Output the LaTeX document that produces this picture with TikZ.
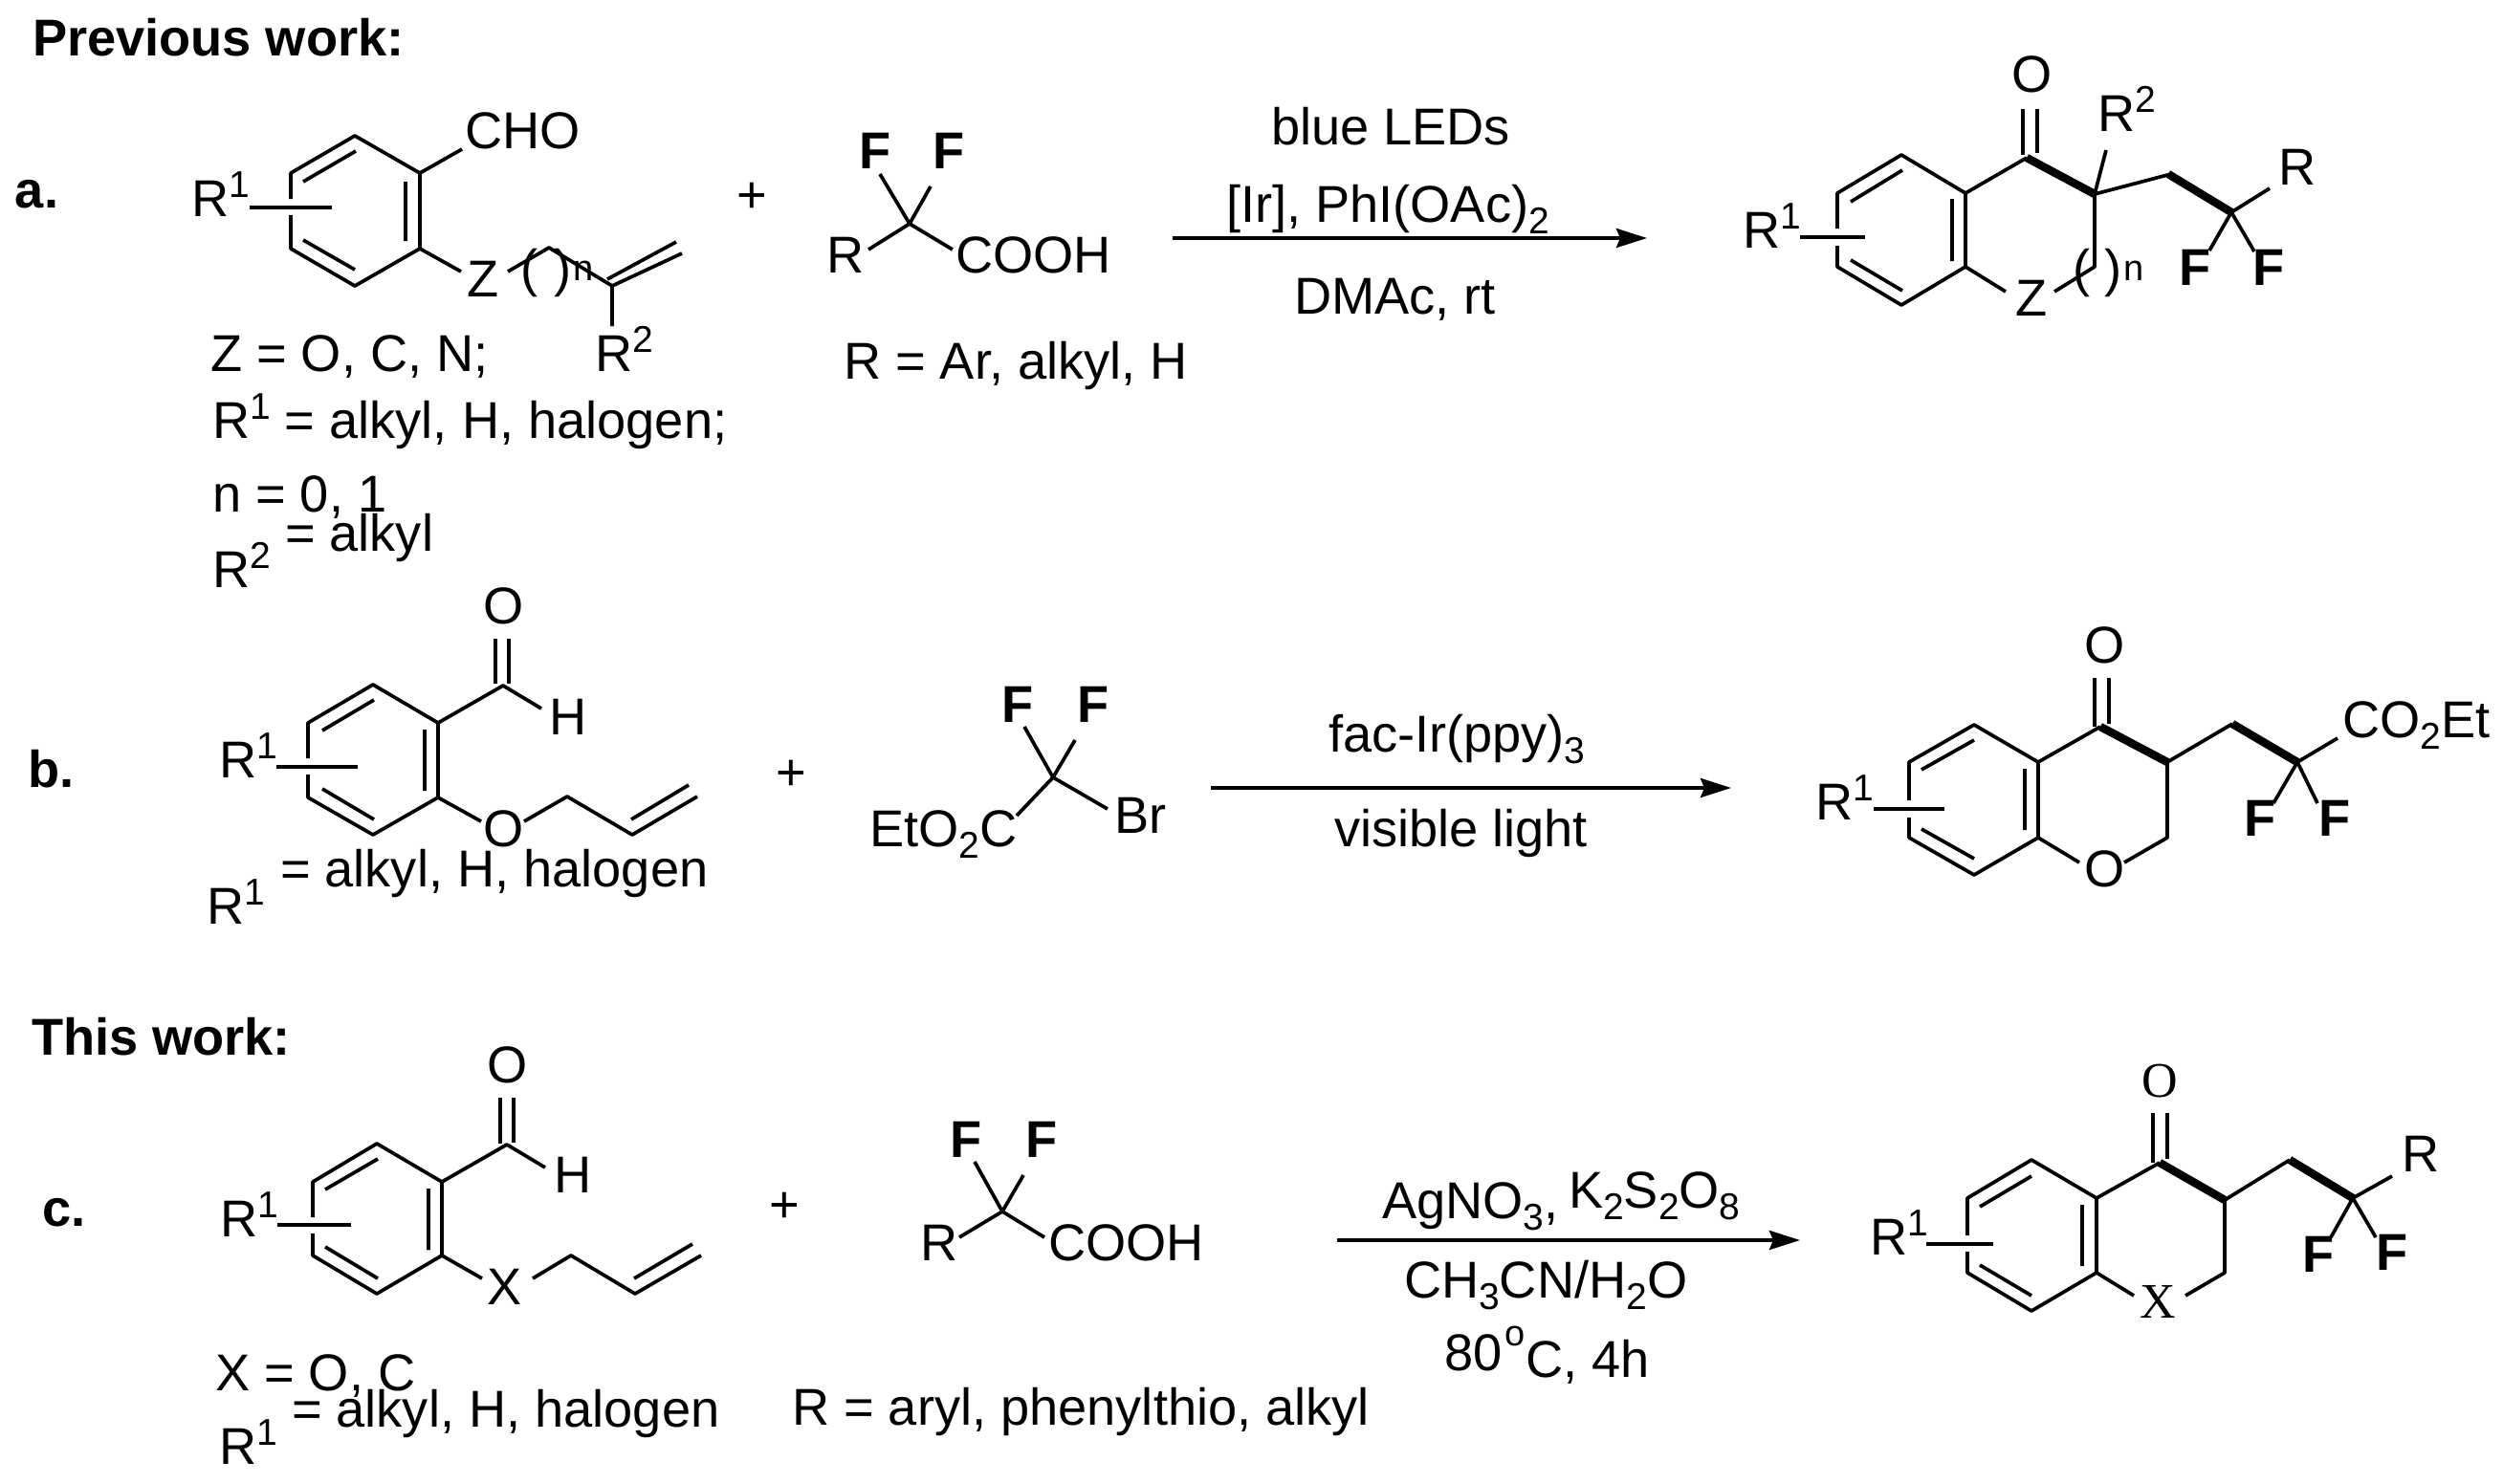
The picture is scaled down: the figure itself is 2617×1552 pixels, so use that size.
\documentclass[tikz,border=0pt]{standalone}
\usepackage{fontspec}
\setmainfont{Liberation Sans}
\newfontfamily\serifchem{Liberation Serif}
\usetikzlibrary{arrows.meta}
\newcommand\mainsz{\fontsize{54.2}{60}\selectfont}
\newcommand\supr[1]{\raisebox{20pt}{\fontsize{39}{39}\selectfont #1}}
\newcommand\subr[1]{\raisebox{-12pt}{\fontsize{39}{39}\selectfont #1}}
\tikzset{
  txt/.style={anchor=base west,inner sep=0pt,outer sep=0pt,font=\mainsz,text=black,xshift=-3pt},
  btxt/.style={txt,font=\mainsz\bfseries},
  stxt/.style={txt,font=\fontsize{52}{52}\selectfont\serifchem},
  ntxt/.style={txt,font=\fontsize{38}{38}\selectfont},
  plus/.style={anchor=center,inner sep=0pt,outer sep=0pt,font=\mainsz,text=black,yshift=-3pt},
  bnd/.style={draw=black,line width=3.7pt,line join=round},
  hvy/.style={draw=black,line width=8.5pt,line cap=butt},
  rxn/.style={draw=black,line width=4pt,-{Stealth[length=32pt,width=20pt,inset=4pt]}}
}
\begin{document}
\begin{tikzpicture}[x=1pt,y=-1pt]
\useasboundingbox (0,0) rectangle (2617,1552);
\fill[white] (0,0) rectangle (2617,1552);
% headings
\node[btxt] (prev) at (37,59) {Previous work:};
\node[btxt] (labA) at (19,217) {a.};
\node[btxt] (labB) at (32,823) {b.};
\node[btxt] (thisw) at (36,1103) {This work:};
\node[btxt] (labC) at (47,1282) {c.};
% ---------- a: aldehyde
\draw[bnd] (304,208)--(304,181)--(371,142)--(439,181)--(439,260)--(371,299)--(304,260)--(304,225);
\draw[bnd] (317,190)--(372,158) (424,190)--(424,252) (317,251)--(371,282);
\draw[bnd] (261,217)--(347,217);
\draw[bnd] (439,181)--(483,156) (439,260)--(482,284);
\draw[bnd] (531,284)--(574,259)--(640,299)--(713,265) (635,292)--(707,253) (640,299)--(640,341);
\node[txt] (a1r) at (203,226) {R\supr{1}};
\node[txt] (a1cho) at (489,155) {CHO};
\node[txt] (a1z) at (491,310) {Z};
\node[txt] (a1pl) at (547,299) {(};
\node[txt] (a1pr) at (582,299) {)};
\node[ntxt] (a1n) at (602,293) {n};
\node[txt] (a1r2) at (625,388) {R\supr{2}};
\node[txt] (a1t1) at (223,388) {Z = O, C, N;};
\node[txt] (a1t2) at (225,458) {R\supr{1} = alkyl, H, halogen;};
\node[txt] (a1t3) at (225,535) {n = 0, 1};
\node[txt] (a1t4) at (301,576) {= alkyl};
\node[txt] (a1t5) at (225,614) {R\supr{2}};
\node[plus] (aplus) at (786,204) {+};
% a: acid
\draw[bnd] (920,182)--(951,234) (973,195)--(951,234) (908,261)--(951,234)--(996,261);
\node[btxt] (a2f1) at (901,176) {F};
\node[btxt] (a2f2) at (978,176) {F};
\node[txt] (a2r) at (867,285) {R};
\node[txt] (a2c) at (1002,285) {COOH};
\node[txt] (a2t) at (885,396) {R = Ar, alkyl, H};
% a: arrow
\coordinate (aS) at (1226,249);
\coordinate (aE) at (1722,249);
\draw[rxn] (aS)--(aE);
\node[txt] (ac1) at (1332,151) {blue LEDs};
\node[txt] (ac2) at (1285,232) {[Ir], PhI(OAc)\subr{2}};
\node[txt] (ac3) at (1356,328) {DMAc, rt};
% a: product
\draw[bnd] (1921,239)--(1921,202)--(1988,162)--(2055,202)--(2055,279)--(1988,319)--(1921,279)--(1921,257);
\draw[bnd] (1935,211)--(1989,178) (2041,208)--(2041,273) (1935,272)--(1989,304);
\draw[bnd] (1882,248)--(1950,248);
\draw[bnd] (2055,202)--(2119,165);
\draw[bnd] (2115,114)--(2115,162) (2130,114)--(2130,160);
\draw[hvy] (2119,165)--(2190,203);
\draw[bnd] (2190,203)--(2190,279)--(2148,305) (2055,279)--(2097,305);
\draw[bnd] (2190,203)--(2202,157) (2190,203)--(2270,182);
\draw[hvy] (2267,182)--(2333,222);
\draw[bnd] (2333,222)--(2373,197) (2333,222)--(2310,262) (2333,222)--(2357,263);
\node[txt] (apO) at (2106,97) {O};
\node[txt] (apR1) at (1825,259) {R\supr{1}};
\node[txt] (apZ) at (2110,330) {Z};
\node[txt] (apR2) at (2196,138) {R\supr{2}};
\node[txt] (apR) at (2385,193) {R};
\node[btxt] (apF1) at (2281,298) {F};
\node[btxt] (apF2) at (2358,298) {F};
\node[txt] (appl) at (2170,299) {(};
\node[txt] (appr) at (2203,299) {)};
\node[ntxt] (apn) at (2223,293) {n};
% ---------- b: aldehyde
\draw[bnd] (322,793)--(322,756)--(390,716)--(458,756)--(458,834)--(390,873)--(322,834)--(322,810);
\draw[bnd] (337,764)--(391,732) (444,763)--(444,827) (337,825)--(391,857);
\draw[bnd] (289,802)--(374,802);
\draw[bnd] (458,756)--(526,717)--(566,741);
\draw[bnd] (518,668)--(518,715) (532,668)--(532,715);
\draw[bnd] (458,834)--(503,859) (548,859)--(593,833)--(661,873)--(729,833) (660,857)--(720,821);
\node[txt] (b1r) at (232,813) {R\supr{1}};
\node[txt] (b1o) at (508,652) {O};
\node[txt] (b1h) at (577,768) {H};
\node[txt] (b1o2) at (508,885) {O};
\node[txt] (b1t) at (296,927) {= alkyl, H, halogen};
\node[txt] (b1t2) at (219,966) {R\supr{1}};
\node[plus] (bplus) at (827,808) {+};
% b: bromide
\draw[bnd] (1071,760)--(1101,813) (1124,774)--(1101,813) (1063,853)--(1101,813)--(1158,846);
\node[btxt] (b2f1) at (1050,755) {F};
\node[btxt] (b2f2) at (1129,755) {F};
\node[txt] (b2br) at (1168,871) {Br};
\node[txt] (b2e) at (912,885) {EtO\subr{2}C};
% b: arrow
\coordinate (bS) at (1266,824);
\coordinate (bE) at (1810,824);
\draw[rxn] (bS)--(bE);
\node[txt] (bc1) at (1392,786) {fac-Ir(ppy)\subr{3}};
\node[txt] (bc2) at (1398,885) {visible light};
% b: product
\draw[bnd] (1996,837)--(1996,797)--(2064,758)--(2131,797)--(2131,876)--(2064,915)--(1996,876)--(1996,855);
\draw[bnd] (2009,805)--(2064,774) (2117,804)--(2117,868) (2009,867)--(2064,898);
\draw[bnd] (1959,846)--(2033,846);
\draw[bnd] (2131,797)--(2196,760);
\draw[bnd] (2190,709)--(2190,760) (2205,709)--(2205,757);
\draw[hvy] (2196,760)--(2266,797);
\draw[bnd] (2266,797)--(2266,876)--(2221,902) (2131,876)--(2174,902);
\draw[bnd] (2266,797)--(2334,757);
\draw[hvy] (2334,757)--(2402,797);
\draw[bnd] (2402,797)--(2444,772) (2402,797)--(2377,840) (2402,797)--(2423,840);
\node[txt] (bpO) at (2182,693) {O};
\node[txt] (bpO2) at (2182,927) {O};
\node[txt] (bpR) at (1901,857) {R\supr{1}};
\node[txt] (bpC) at (2452,771) {CO\subr{2}Et};
\node[btxt] (bpF1) at (2349,874) {F};
\node[btxt] (bpF2) at (2427,874) {F};
% ---------- c: aldehyde
\draw[bnd] (327,1273)--(327,1236)--(394,1196)--(462,1236)--(462,1313)--(394,1353)--(327,1313)--(327,1290);
\draw[bnd] (340,1244)--(395,1212) (448,1243)--(448,1307) (340,1304)--(395,1337);
\draw[bnd] (290,1281)--(367,1281);
\draw[bnd] (462,1236)--(530,1197)--(570,1221);
\draw[bnd] (523,1148)--(523,1196) (537,1148)--(537,1195);
\draw[bnd] (462,1313)--(504,1337) (557,1337)--(597,1313)--(664,1353)--(733,1313) (663,1337)--(724,1301);
\node[txt] (c1r) at (233,1293) {R\supr{1}};
\node[txt] (c1o) at (512,1132) {O};
\node[txt] (c1h) at (582,1247) {H};
\node[txt] (c1x) at (512,1364) {X};
\node[txt] (c1t1) at (228,1454) {X = O, C};
\node[txt] (c1t2) at (308,1492) {= alkyl, H, halogen};
\node[txt] (c1t3) at (232,1531) {R\supr{1}};
\node[plus] (cplus) at (820,1260) {+};
% c: acid
\draw[bnd] (1019,1215)--(1048,1267) (1070,1229)--(1048,1267) (1003,1294)--(1048,1267)--(1092,1294);
\node[btxt] (c2f1) at (996,1210) {F};
\node[btxt] (c2f2) at (1075,1210) {F};
\node[txt] (c2r) at (965,1318) {R};
\node[txt] (c2c) at (1099,1318) {COOH};
\node[txt] (c2t) at (831,1490) {R = aryl, phenylthio, alkyl};
% c: arrow
\coordinate (cS) at (1398,1297);
\coordinate (cE) at (1882,1297);
\draw[rxn] (cS)--(cE);
\node[txt] (cc1) at (1448,1274) {AgNO\subr{3},};
\node[txt] (cc2) at (1643,1263) {K\subr{2}S\subr{2}O\subr{8}};
\node[txt] (cc3) at (1471,1357) {CH\subr{3}CN/H\subr{2}O};
\node[txt] (cc4) at (1513,1433) {80};
\node[ntxt] (cc5) at (1576,1407) {o};
\node[txt] (cc6) at (1598,1440) {C, 4h};
% c: product
\draw[bnd] (2057,1292)--(2057,1253)--(2124,1213)--(2192,1253)--(2192,1331)--(2124,1371)--(2057,1331)--(2057,1309);
\draw[bnd] (2070,1262)--(2124,1230) (2177,1260)--(2177,1324) (2070,1323)--(2124,1355);
\draw[bnd] (2014,1301)--(2084,1301);
\draw[bnd] (2192,1253)--(2258,1216);
\draw[bnd] (2251,1164)--(2251,1216) (2266,1164)--(2266,1212);
\draw[hvy] (2258,1216)--(2326,1255);
\draw[bnd] (2326,1255)--(2326,1331)--(2285,1355) (2192,1331)--(2231,1355);
\draw[bnd] (2326,1255)--(2394,1213);
\draw[hvy] (2394,1213)--(2460,1253);
\draw[bnd] (2460,1253)--(2501,1230) (2460,1253)--(2437,1294) (2460,1253)--(2484,1294);
\node[stxt] (cpO) at (2242,1147) {O};
\node[stxt] (cpX) at (2240,1378) {X};
\node[txt] (cpR1) at (1958,1312) {R\supr{1}};
\node[txt] (cpR) at (2514,1225) {R};
\node[btxt] (cpF1) at (2410,1330) {F};
\node[btxt] (cpF2) at (2487,1328) {F};
\end{tikzpicture}
\end{document}
